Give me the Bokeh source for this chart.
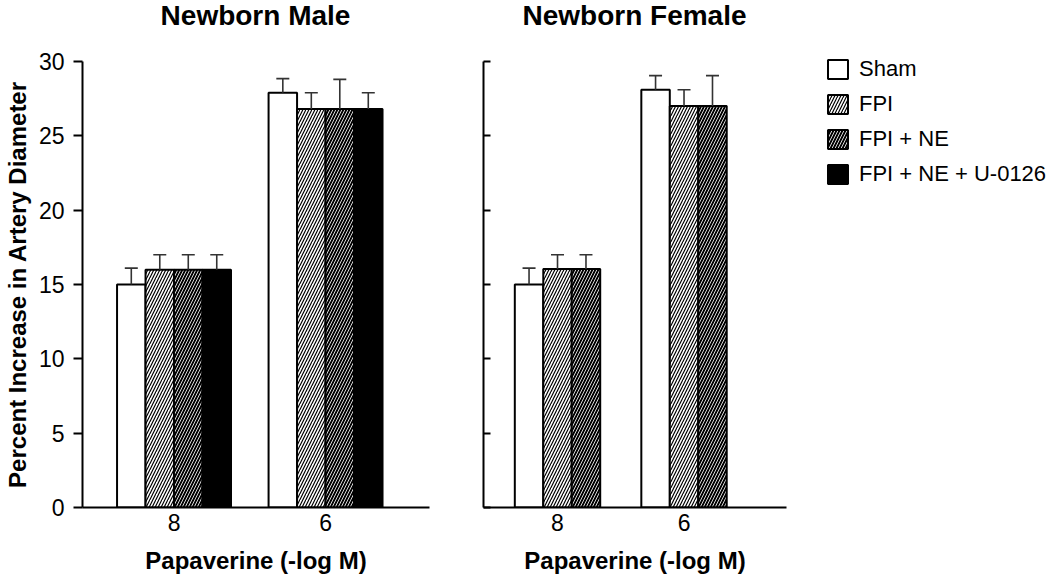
from bokeh.plotting import figure
from bokeh.layouts import row, column
from bokeh.models import (ColumnDataSource, Whisker, TeeHead, FixedTicker, Legend,
                          LegendItem, Range1d, Div)
from bokeh.embed import file_html
from bokeh.resources import INLINE

# ---------------- data ----------------
doses = ["8", "6"]
groups = ["Sham", "FPI", "FPI + NE", "FPI + NE + U-0126"]
titles = ["Newborn Male", "Newborn Female"]

male_sham = [15.0, 27.9]
male_fpi = [16.0, 26.8]
male_fpi_ne = [16.0, 26.8]
male_fpi_ne_u0126 = [16.0, 26.8]
male_sham_err = [1.1, 0.95]
male_fpi_err = [1.0, 1.1]
male_fpi_ne_err = [1.0, 2.0]
male_fpi_ne_u0126_err = [1.0, 1.1]

female_sham = [15.0, 28.1]
female_fpi = [16.05, 27.0]
female_fpi_ne = [16.05, 27.0]
female_sham_err = [1.1, 0.95]
female_fpi_err = [0.95, 1.1]
female_fpi_ne_err = [0.95, 2.05]

y_ticks = [0, 5, 10, 15, 20, 25, 30]

# ---------------- styles ----------------
FONT = "Liberation Sans"
STYLES = [
    dict(fill_color="white", hatch_pattern=None, hatch_color="black"),
    dict(fill_color="white", hatch_pattern="/", hatch_color="black", hatch_weight=1.2, hatch_scale=6),
    dict(fill_color="black", hatch_pattern="/", hatch_color="white", hatch_weight=0.85, hatch_scale=6),
    dict(fill_color="black", hatch_pattern=None, hatch_color="black"),
]

TITLE_H = 32
TOP = 61 - TITLE_H
FRAME_H = 446


def make_title(text, frame_w, left, right):
    return Div(text=text, width=frame_w, height=TITLE_H, margin=(0, right, 0, left),
               styles={"font-family": FONT, "font-size": "28px", "font-weight": "bold",
                       "text-align": "center", "line-height": "32px", "color": "black",
                       "white-space": "nowrap"})


def style_common(p):
    p.toolbar_location = None
    p.outline_line_color = None
    p.xgrid.visible = False
    p.ygrid.visible = False
    p.min_border_top = TOP
    p.min_border_bottom = 0
    p.background_fill_color = "white"
    p.border_fill_color = "white"
    for ax in (p.xaxis[0], p.yaxis[0]):
        ax.axis_line_width = 2
        ax.axis_line_color = "black"
        ax.major_tick_line_width = 2
        ax.major_tick_line_color = "black"
        ax.minor_tick_line_color = None
        ax.major_label_text_font = FONT
        ax.major_label_text_font_size = "23px"
        ax.major_label_text_color = "black"
        ax.axis_label_text_font = FONT
        ax.axis_label_text_font_size = "24px"
        ax.axis_label_text_font_style = "bold"
        ax.axis_label_text_color = "black"
    xa = p.xaxis[0]
    xa.ticker = FixedTicker(ticks=[i + 1 for i in range(len(doses))])
    xa.major_label_overrides = {i + 1: d for i, d in enumerate(doses)}
    xa.major_tick_in = 0
    xa.major_tick_out = 0
    xa.major_label_standoff = 6
    xa.axis_label = "Papaverine (-log M)"
    xa.axis_label_standoff = 13
    ya = p.yaxis[0]
    ya.ticker = FixedTicker(ticks=y_ticks)


def add_bars(p, means, errs, bw):
    n = len(means)
    renderers = []
    for k, (m, e) in enumerate(zip(means, errs)):
        off = (k - (n - 1) / 2.0) * bw
        xs = [i + 1 + off for i in range(len(doses))]
        src = ColumnDataSource(dict(x=xs, top=m, upper=[a + b for a, b in zip(m, e)]))
        wh = Whisker(base="x", upper="upper", lower="top", dimension="height", source=src,
                     upper_head=TeeHead(size=13, line_color="#333333", line_width=1.6),
                     lower_head=None, line_color="#333333", line_width=1.6, level="overlay")
        p.add_layout(wh)
        r = p.vbar(x="x", top="top", bottom=0, width=bw, source=src,
                   line_color="black", line_width=2, **STYLES[k])
        renderers.append(r)
    return renderers


# ---------------- left panel ----------------
p1 = figure(frame_width=347, frame_height=FRAME_H, output_backend="svg", toolbar_location=None,
            x_range=Range1d(0.396, 2.686), y_range=Range1d(0, 30))
style_common(p1)
p1.min_border_left = 82
p1.min_border_right = 20
ya1 = p1.yaxis[0]
ya1.major_tick_out = 9
ya1.major_tick_in = 0
ya1.major_label_standoff = 9
ya1.axis_label = "Percent Increase in Artery Diameter"
ya1.axis_label_standoff = 5
add_bars(p1,
         [male_sham, male_fpi, male_fpi_ne, male_fpi_ne_u0126],
         [male_sham_err, male_fpi_err, male_fpi_ne_err, male_fpi_ne_u0126_err],
         0.188)

# ---------------- right panel ----------------
p2 = figure(frame_width=303, frame_height=FRAME_H, output_backend="svg", toolbar_location=None,
            x_range=Range1d(0.415, 2.81), y_range=Range1d(0, 30))
style_common(p2)
p2.min_border_left = 34
p2.min_border_right = 0
ya2 = p2.yaxis[0]
ya2.major_tick_out = 0
ya2.major_tick_in = 7
ya2.major_label_text_color = None
ya2.major_label_standoff = 0
r2 = add_bars(p2,
              [female_sham, female_fpi, female_fpi_ne],
              [female_sham_err, female_fpi_err, female_fpi_ne_err],
              0.225)
# hidden placeholder renderer that only supplies the legend swatch of the 4th group
dummy = p2.vbar(x=[i + 1 for i in range(len(doses))], top=male_fpi_ne_u0126, width=0.2,
                line_color="black", line_width=2, visible=False, **STYLES[3])
leg_r = r2 + [dummy]

legend = Legend(items=[LegendItem(label=g, renderers=[r]) for g, r in zip(groups, leg_r)],
                location=(39, 320), glyph_width=25, glyph_height=24, label_height=24,
                spacing=9, label_standoff=9, padding=22, margin=0,
                border_line_color=None, background_fill_alpha=0,
                label_text_font=FONT, label_text_font_size="22px", label_text_color="black")
p2.add_layout(legend, "right")

t1 = make_title(titles[0], 347, 82, 20)
t2 = make_title(titles[1], 303, 34, 0)

layout = row(column(t1, p1), column(t2, p2))
open("out.html", "w").write(file_html(layout, INLINE))
